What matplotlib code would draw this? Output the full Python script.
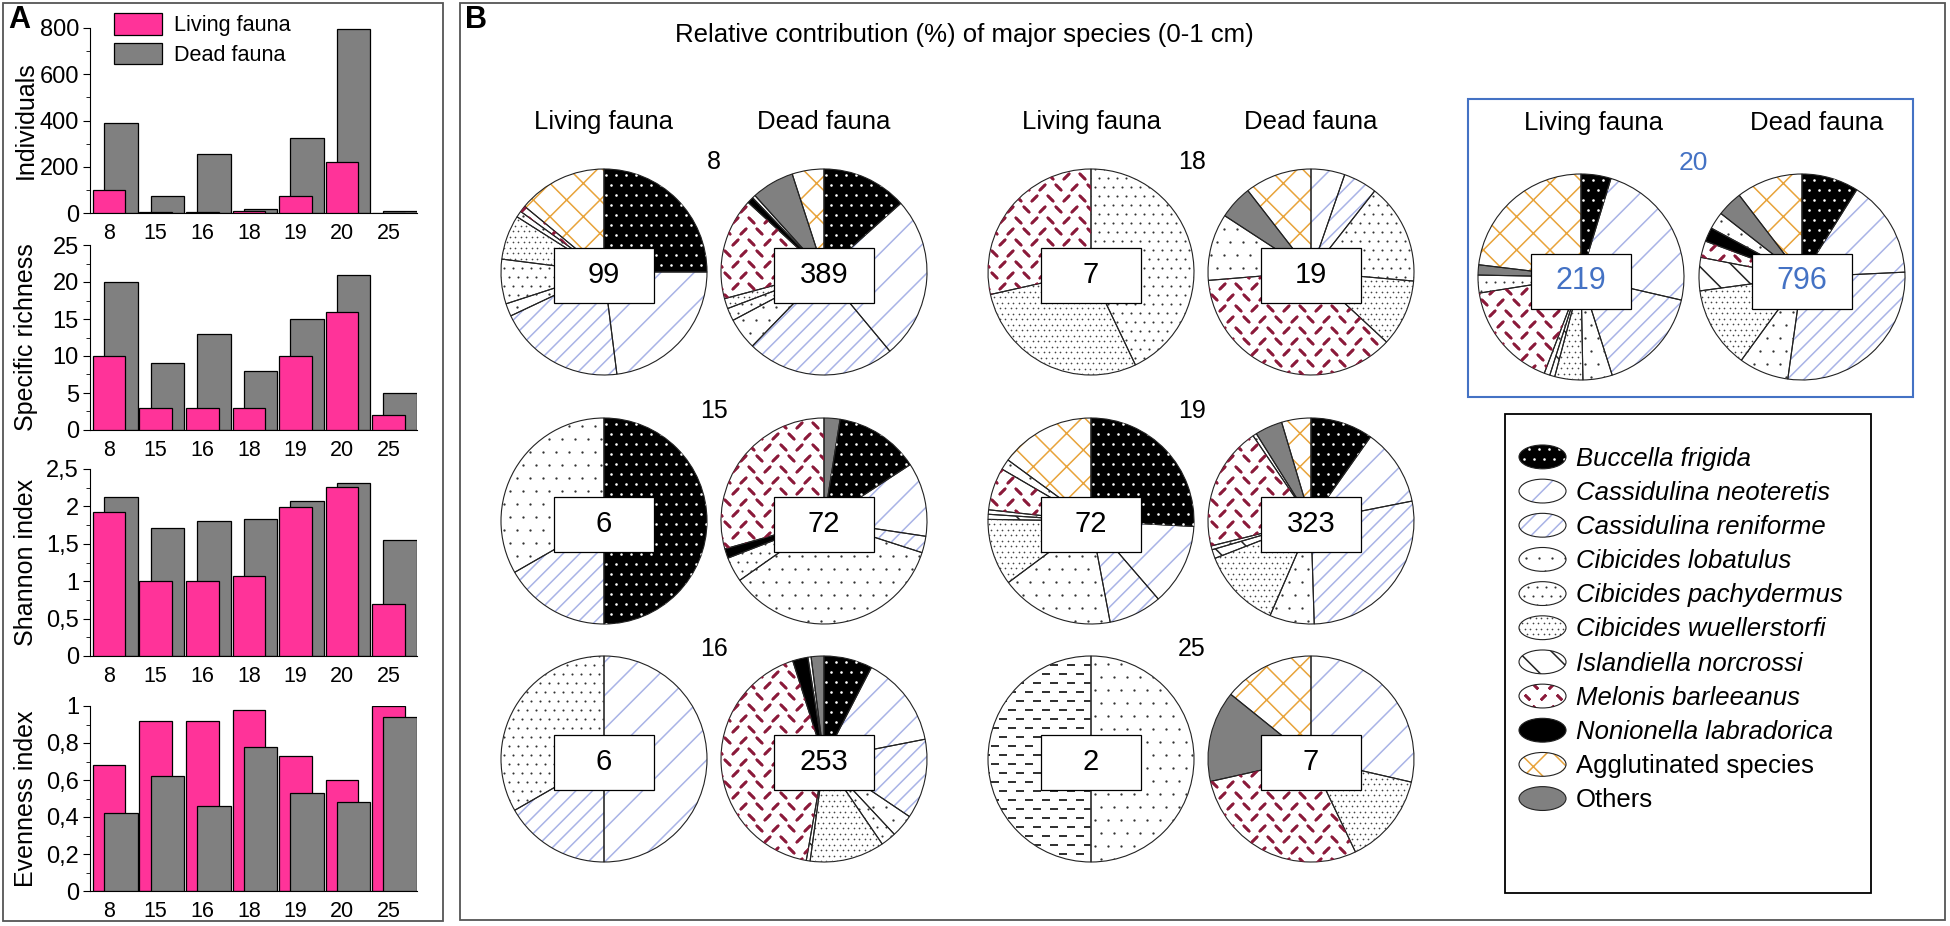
import numpy as np
import matplotlib
matplotlib.use("Agg")
import matplotlib.pyplot as plt
import matplotlib.patches as mpatches
from matplotlib.lines import Line2D
from matplotlib.ticker import MultipleLocator, FuncFormatter

plt.rcParams['font.family'] = ['Liberation Sans', 'DejaVu Sans']
plt.rcParams['hatch.linewidth'] = 1.1

# ---- panel A data ----
stations = ["8", "15", "16", "18", "19", "20", "25"]
individuals_living = [99, 6, 6, 7, 72, 219, 2]
individuals_dead = [389, 72, 253, 19, 323, 796, 7]
richness_living = [10, 3, 3, 3, 10, 16, 2]
richness_dead = [20, 9, 13, 8, 15, 21, 5]
shannon_living = [1.92, 1.0, 1.0, 1.07, 1.99, 2.26, 0.69]
shannon_dead = [2.13, 1.71, 1.80, 1.83, 2.07, 2.31, 1.55]
evenness_living = [0.68, 0.92, 0.92, 0.98, 0.73, 0.60, 1.0]
evenness_dead = [0.42, 0.62, 0.46, 0.78, 0.53, 0.48, 0.94]

# ---- panel B data: (taxon, %) clockwise from 12 o'clock ----
pie_8_living = [("BF", 25), ("CN", 23), ("CR", 20), ("CL", 2), ("CP", 7), ("CW", 7),
                ("CL", 1), ("MB", 1), ("AG", 14)]
pie_8_dead = [("BF", 13.4), ("CN", 25.6), ("CR", 23.3), ("CL", 5), ("CP", 2), ("CW", 1.6),
              ("MB", 16), ("NL", 1), ("CL", 0.5), ("OT", 6.7), ("AG", 5)]
pie_15_living = [("BF", 50), ("CR", 16.7), ("CL", 33.3)]
pie_15_dead = [("OT", 2.5), ("BF", 13.3), ("CN", 11.6), ("CR", 2.6), ("CL", 35.3), ("CP", 3.9),
               ("NL", 1.5), ("MB", 29.4)]
pie_16_living = [("CN", 50), ("CR", 16.7), ("CP", 33.3)]
pie_16_dead = [("BF", 7.6), ("CN", 14.3), ("CR", 12.5), ("CL", 3.6), ("CP", 2.4), ("CW", 11.7),
               ("IN", 0.6), ("MB", 42.3), ("NL", 2.4), ("CL", 0.5), ("OT", 2)]
pie_18_living = [("CP", 42.9), ("CW", 28.6), ("MB", 28.5)]
pie_18_dead = [("CN", 5.3), ("CR", 5.3), ("CP", 15.8), ("CW", 10.5), ("MB", 36.8), ("CL", 10.5),
               ("OT", 5.3), ("AG", 10.5)]
pie_19_living = [("BF", 26), ("CN", 12.9), ("CR", 8.4), ("CL", 17.9), ("CW", 10.5), ("IN", 0.8),
                 ("CL", 0.7), ("MB", 6.7), ("CL", 1.7), ("AG", 15)]
pie_19_dead = [("BF", 9.8), ("CN", 12.1), ("CR", 27.6), ("CL", 7), ("CW", 12.6), ("IN", 1.4),
               ("CL", 0.6), ("MB", 19.4), ("CL", 0.6), ("OT", 4.3), ("AG", 4.6)]
pie_25_living = [("CL", 50), ("UN", 50)]
pie_25_dead = [("CN", 28.6), ("CW", 14.3), ("MB", 28.6), ("OT", 14.3), ("AG", 14.2)]
pie_20_living = [("BF", 4.7), ("CN", 23.9), ("CR", 16.5), ("CL", 4.6), ("CW", 4.4), ("IN", 0.8),
                 ("CL", 0.9), ("MB", 16.7), ("CP", 2.8), ("OT", 1.6), ("AG", 23.1)]
pie_20_dead = [("BF", 8.9), ("CN", 15.3), ("CR", 27.9), ("CL", 7.8), ("CW", 12.8), ("IN", 5.2),
               ("MB", 2.6), ("NL", 2.2), ("CL", 2.7), ("OT", 4), ("AG", 10.4)]

legend_codes = ["BF", "CN", "CR", "CL", "CP", "CW", "IN", "MB", "NL", "AG", "OT"]
legend_names = ["Buccella frigida", "Cassidulina neoteretis", "Cassidulina reniforme",
                "Cibicides lobatulus", "Cibicides pachydermus", "Cibicides wuellerstorfi",
                "Islandiella norcrossi", "Melonis barleeanus", "Nonionella labradorica",
                "Agglutinated species", "Others"]

PINK = "#FF3399"
GRAY = "#808080"
BLUE = "#4472C4"
LAV = "#A9B3E6"
RED = "#8B1A3A"
ORANGE = "#E8A33A"

# texture: (kind, step x px, step y px, mark size px, mark width px, colour)
STYLE = {
    "BF": dict(face="black", tex=("dots", 10, 10, 2.6, 0, "white")),
    "CN": dict(face="white", hatch="/", hc=LAV),
    "CR": dict(face="white", hatch="//", hc=LAV),
    "CL": dict(face="white", tex=("dots", 13, 13, 2.3, 0, "#333333")),
    "CP": dict(face="white", tex=("dots", 9, 9, 2.1, 0, "#333333")),
    "CW": dict(face="white", tex=("dots", 5.5, 5.5, 1.7, 0, "#444444")),
    "IN": dict(face="white", hatch="\\", hc="#222222"),
    "MB": dict(face="white", tex=("divot", 16, 11, 7.5, 2.6, RED)),
    "NL": dict(face="black"),
    "AG": dict(face="white", hatch="x", hc=ORANGE),
    "OT": dict(face=GRAY),
    "UN": dict(face="white", tex=("dash", 17, 9, 8, 1.9, "#333333")),
}

W, H = 1950, 926
fig = plt.figure(figsize=(W / 100, H / 100), dpi=100)


def rect(x0, y0, x1, y1):
    # pixel box, origin top-left -> figure fraction
    return [x0 / W, 1 - y1 / H, (x1 - x0) / W, (y1 - y0) / H]


def frame(x0, y0, x1, y1, color, lw):
    fig.add_artist(mpatches.Rectangle((x0 / W, 1 - y1 / H), (x1 - x0) / W, (y1 - y0) / H,
                                      transform=fig.transFigure, fill=False, ec=color, lw=lw))


def add_texture(tex, bounds, unit, clip, draw):
    # unit: drawing units per pixel; draw(x, y, marker, size_pt, lw_pt, color)
    kind, sx, sy, size, lw, color = tex
    x0, x1, y0, y1 = bounds
    gx = np.arange(x0, x1, sx * unit)
    gy = np.arange(y0, y1, sy * unit)
    X, Y = np.meshgrid(gx, gy)
    X[1::2] += sx * unit / 2
    I, J = np.meshgrid(np.arange(len(gx)), np.arange(len(gy)))
    X, Y, m = X.ravel(), Y.ravel(), ((I + J) % 2).ravel()
    if kind == "divot":
        parts = [(m == 0, (2, 2, -45)), (m == 1, (2, 2, 45))]
    elif kind == "dash":
        parts = [(m >= 0, "_")]
    else:
        parts = [(m >= 0, "o")]
    for sel, mk in parts:
        a = draw(X[sel], Y[sel], mk, size * 0.72, lw * 0.72, color)
        a.set_clip_path(clip)


def draw_pie(cx, cy, data, count, R=103, numcolor="black", numsize=21, boxdy=-0.03):
    pad = 1.05
    ax = fig.add_axes(rect(cx - R * pad, cy - R * pad, cx + R * pad, cy + R * pad))
    vals = [v for c, v in data]
    sty = [STYLE[c] for c, v in data]
    wedges, _ = ax.pie(vals, startangle=90, counterclock=False,
                       colors=[s["face"] for s in sty], wedgeprops=dict(linewidth=0))

    def sc(x, y, mk, size, lw, color):
        return ax.scatter(x, y, marker=mk, s=size ** 2, linewidths=lw, color=color, zorder=2)

    for w, s in zip(wedges, sty):
        if "hatch" in s:
            w.set_hatch(s["hatch"])
            w.set_edgecolor(s["hc"])
        if "tex" in s:
            add_texture(s["tex"], (-1.1, 1.1, -1.1, 1.1), 1 / R, w, sc)
    ax.pie(vals, startangle=90, counterclock=False, colors=["none"] * len(vals),
           wedgeprops=dict(edgecolor="#222222", linewidth=0.8))
    ax.set_xlim(-pad, pad)
    ax.set_ylim(-pad, pad)
    bw, bh = 100 / R, 55 / R
    ax.add_patch(mpatches.Rectangle((-bw / 2, boxdy - bh / 2), bw, bh, fc="white",
                                    ec="black", lw=0.9, zorder=5))
    ax.text(0, boxdy, str(count), ha="center", va="center", fontsize=numsize,
            color=numcolor, zorder=6)


# ---------------- panel A ----------------
xpos = np.arange(len(stations))
fmt = FuncFormatter(lambda v, p: f"{v:g}".replace(".", ","))
bar_panels = [
    (individuals_living, individuals_dead, "Individuals", 800, 200, 100, 28, 213, False),
    (richness_living, richness_dead, "Specific richness", 25, 5, 2.5, 245, 430, False),
    (shannon_living, shannon_dead, "Shannon index", 2.5, 0.5, 0.25, 469, 656, False),
    (evenness_living, evenness_dead, "Evenness index", 1.0, 0.2, 0.1, 706, 891, True),
]
for liv, dead, lab, ymax, major, minor, top, bot, dead_front in bar_panels:
    ax = fig.add_axes(rect(90, top, 417, bot))
    zl, zd = (2, 3) if dead_front else (3, 2)
    ax.bar(xpos, liv, width=0.7, color=PINK, edgecolor="black", linewidth=0.9, zorder=zl)
    ax.bar(xpos + 0.25, dead, width=0.72, color=GRAY, edgecolor="black", linewidth=0.9, zorder=zd)
    ax.set_xlim(-0.41, 6.61)
    ax.set_ylim(0, ymax)
    ax.spines[["top", "right"]].set_visible(False)
    ax.set_xticks(xpos, stations)
    ax.tick_params(axis="x", length=0, labelsize=15.5, pad=7)
    ax.yaxis.set_major_locator(MultipleLocator(major))
    ax.yaxis.set_minor_locator(MultipleLocator(minor))
    ax.yaxis.set_major_formatter(fmt)
    ax.tick_params(axis="y", which="major", length=5, labelsize=17, pad=3)
    ax.tick_params(axis="y", which="minor", length=3)
    ax.set_ylabel(lab, fontsize=18)
    ax.yaxis.set_label_coords(-0.16, 0.5)

fig.legend(handles=[mpatches.Patch(fc=PINK, ec="black", lw=0.9),
                    mpatches.Patch(fc=GRAY, ec="black", lw=0.9)],
           labels=["Living fauna", "Dead fauna"], loc="upper left",
           bbox_to_anchor=(114 / W, 1 - 13 / H), frameon=False, fontsize=15.6,
           handlelength=2.2, handleheight=1.15, labelspacing=0.3, handletextpad=0.55,
           borderpad=0, borderaxespad=0)

frame(3, 3, 443, 921, "#555555", 1.3)
fig.text(8 / W, 1 - 20 / H, "A", fontsize=22, fontweight="bold", ha="left", va="center")

# ---------------- panel B ----------------
frame(460, 3, 1945, 920, "#555555", 1.3)
fig.text(465 / W, 1 - 20 / H, "B", fontsize=22, fontweight="bold", ha="left", va="center")
fig.text(964 / W, 1 - 35 / H, "Relative contribution (%) of major species (0-1 cm)",
         fontsize=18.5, ha="center", va="center")

for lx, dx in [(604, 824), (1091, 1311)]:
    fig.text(lx / W, 1 - 122 / H, "Living fauna", fontsize=18.5, ha="center", va="center")
    fig.text(dx / W, 1 - 122 / H, "Dead fauna", fontsize=18.5, ha="center", va="center")

rows_y = [272, 521, 759]
left_group = [("8", pie_8_living, pie_8_dead, 99, 389),
              ("15", pie_15_living, pie_15_dead, 6, 72),
              ("16", pie_16_living, pie_16_dead, 6, 253)]
mid_group = [("18", pie_18_living, pie_18_dead, 7, 19),
             ("19", pie_19_living, pie_19_dead, 72, 323),
             ("25", pie_25_living, pie_25_dead, 2, 7)]
for (lx, dx, sx), group in [((604, 824, 714), left_group), ((1091, 1311, 1192), mid_group)]:
    for cy, (st, pl, pd, nl, nd) in zip(rows_y, group):
        fig.text(sx / W, 1 - (cy - 110) / H, st, fontsize=18, ha="center", va="center")
        draw_pie(lx, cy, pl, nl)
        draw_pie(dx, cy, pd, nd)

# station 20 highlighted
frame(1468, 99, 1913, 397, BLUE, 1.5)
fig.text(1593 / W, 1 - 123 / H, "Living fauna", fontsize=18.5, ha="center", va="center")
fig.text(1817 / W, 1 - 123 / H, "Dead fauna", fontsize=18.5, ha="center", va="center")
fig.text(1693 / W, 1 - 163 / H, "20", fontsize=19, ha="center", va="center", color=BLUE)
draw_pie(1581, 277, pie_20_living, 219, numcolor=BLUE, numsize=22, boxdy=-0.04)
draw_pie(1802, 277, pie_20_dead, 796, numcolor=BLUE, numsize=22, boxdy=-0.04)


# legend of taxa with elliptical keys
class EllipseKey:
    def __init__(self, sty):
        self.sty = sty

    def legend_artist(self, legend, orig_handle, fontsize, handlebox):
        w, h = handlebox.width, handlebox.height
        c = (w / 2 - handlebox.xdescent, h / 2 - handlebox.ydescent)
        s = self.sty
        e = mpatches.Ellipse(c, w, h, facecolor=s["face"], linewidth=0)
        if "hatch" in s:
            e.set_hatch(s["hatch"])
            e.set_edgecolor(s["hc"])
        handlebox.add_artist(e)
        if "tex" in s:
            def ln(x, y, mk, size, lw, color):
                a = Line2D(x, y, marker=mk, markersize=size, markeredgewidth=lw,
                           color=color, linestyle="none")
                handlebox.add_artist(a)
                return a
            add_texture(s["tex"], (c[0] - w / 2, c[0] + w / 2, c[1] - h / 2, c[1] + h / 2),
                        0.72, e, ln)
        o = mpatches.Ellipse(c, w, h, facecolor="none", edgecolor="#222222", linewidth=0.8)
        handlebox.add_artist(o)
        return o


frame(1505, 414, 1871, 893, "black", 1.3)
keys = [mpatches.Patch() for _ in legend_codes]
leg = fig.legend(handles=keys, labels=legend_names,
                 handler_map={k: EllipseKey(STYLE[c]) for k, c in zip(keys, legend_codes)},
                 loc="upper left", bbox_to_anchor=(1519 / W, 1 - 445 / H), frameon=False,
                 fontsize=18.5, handlelength=1.83, handleheight=1.05, labelspacing=0.33,
                 handletextpad=0.39, borderpad=0, borderaxespad=0)
for t in leg.get_texts()[:9]:
    t.set_fontstyle("italic")

fig.savefig("out.png", dpi=100)
